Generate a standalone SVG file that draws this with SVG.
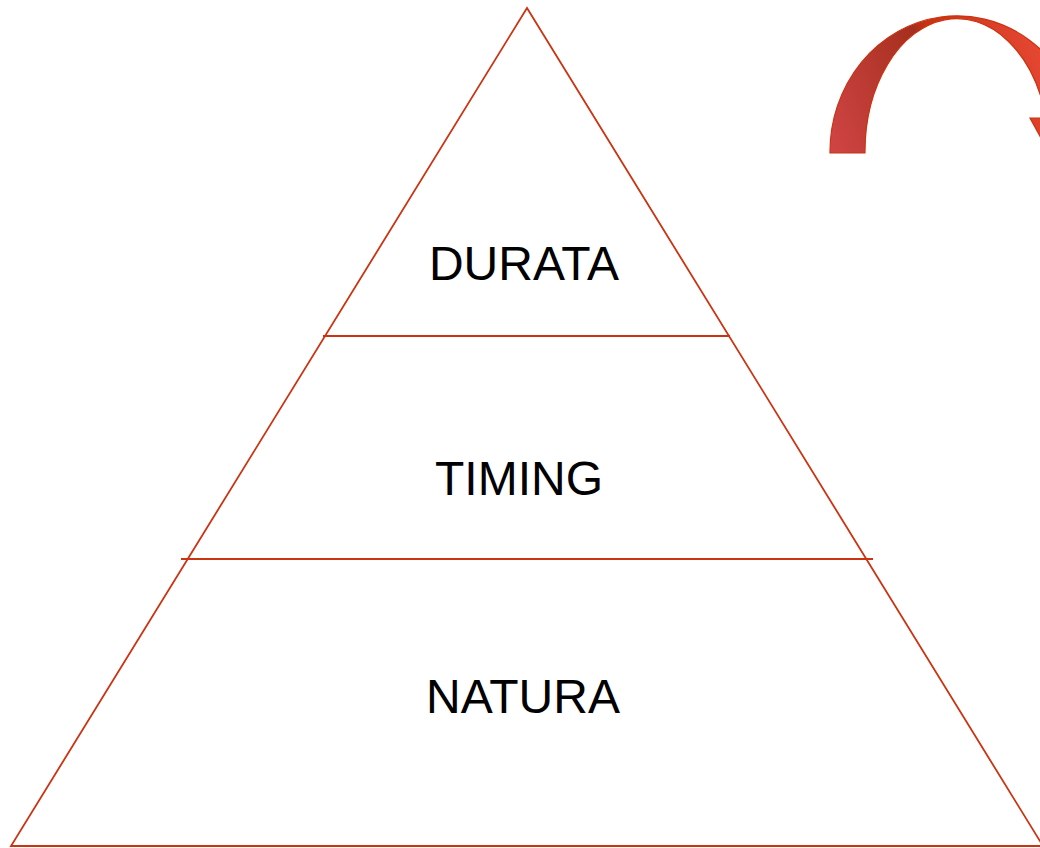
<svg xmlns="http://www.w3.org/2000/svg" width="1040" height="848" viewBox="0 0 1040 848">
<style>
.ln{stroke:#cc3311;stroke-width:1.8;fill:none}
.lbl{font-family:"Liberation Sans",Arial,sans-serif;font-size:48px;fill:#000;text-anchor:middle}
</style>
<defs>
<linearGradient id="ag" x1="830" y1="153" x2="1060" y2="60" gradientUnits="userSpaceOnUse">
<stop offset="0" stop-color="#d04545"/>
<stop offset="0.5" stop-color="#a52f1e"/>
<stop offset="0.55" stop-color="#c63212"/>
<stop offset="1" stop-color="#ea4a38"/>
</linearGradient>
</defs>
<rect width="1040" height="848" fill="#fff"/>
<g id="arrow">
<path d="M 830 153 A 127 136 0 0 1 1080 118 L 1100 118 L 1063 178 L 1030 118 L 1046 118 A 92 133 0 0 0 865 153 Z" fill="url(#ag)" stroke="#cc3311" stroke-width="1.2"/>
</g>
<g id="pyramid">
<path class="ln" d="M 527 8 L 11 846 L 1043 846 Z"/>
</g>
<g id="connectors">
<line class="ln" x1="323" y1="336" x2="730" y2="336"/>
<line class="ln" x1="181" y1="559" x2="873" y2="559"/>
</g>
<g id="durata"><text class="lbl" x="524" y="280">DURATA</text></g>
<g id="timing"><text class="lbl" x="519" y="495">TIMING</text></g>
<g id="natura"><text class="lbl" x="523" y="713">NATURA</text></g>
</svg>
